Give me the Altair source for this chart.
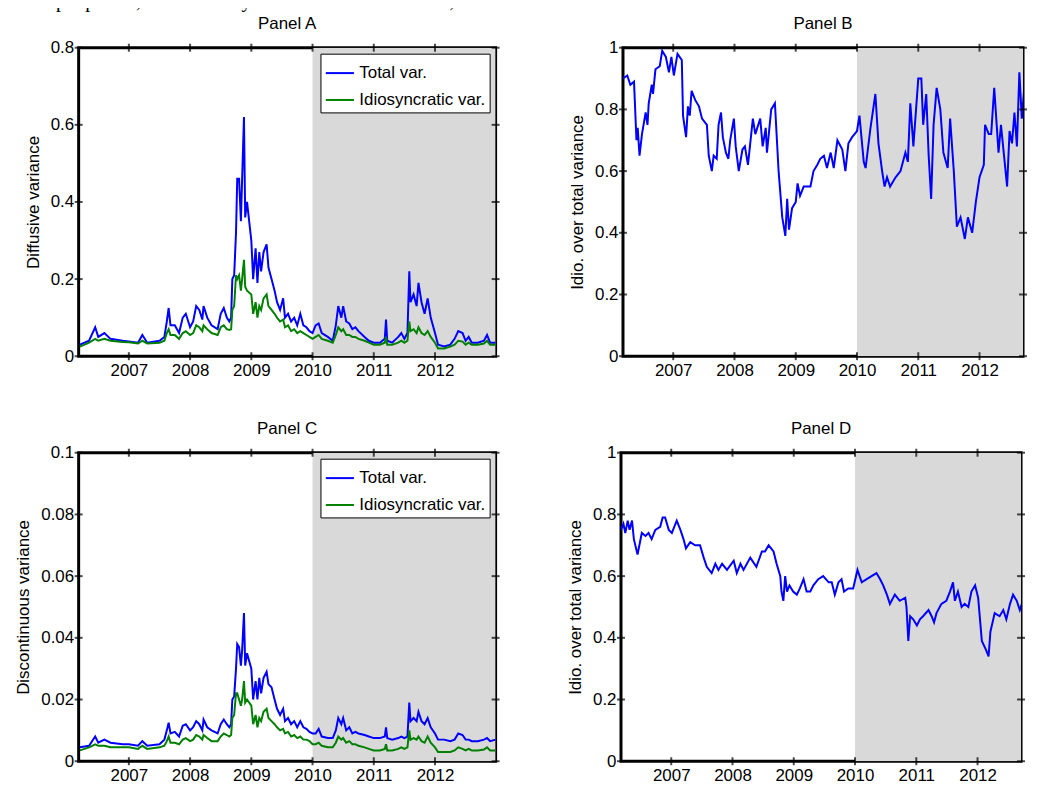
import pandas as pd
import altair as alt

FONT = "Liberation Sans"
W, H = 419, 310
W_RIGHT = 402  # the right-hand panels run off the page edge in the reference
X_MIN, X_MAX = 2006.18, 2012.99
X_MAX_RIGHT = 2012.71
SHADE_START, SHADE_END = 2010.0, 2012.99
YEARS = [2007, 2008, 2009, 2010, 2011, 2012]

# shared time grid (decimal years) for panels A and C
xs = [2006.2, 2006.35, 2006.45, 2006.5, 2006.6, 2006.7, 2006.9, 2007.0, 2007.15, 2007.22,
      2007.3, 2007.5, 2007.58, 2007.62, 2007.65, 2007.68, 2007.75, 2007.82, 2007.88, 2007.93,
      2008.0, 2008.05, 2008.1, 2008.15, 2008.2, 2008.22, 2008.28, 2008.35, 2008.45, 2008.5,
      2008.55, 2008.6, 2008.64, 2008.67, 2008.69, 2008.72, 2008.75, 2008.77, 2008.8, 2008.83,
      2008.85, 2008.88, 2008.9, 2008.93, 2009.0, 2009.03, 2009.07, 2009.1, 2009.13, 2009.16,
      2009.2, 2009.25, 2009.28, 2009.33, 2009.38, 2009.42, 2009.47, 2009.52, 2009.55, 2009.6,
      2009.65, 2009.7, 2009.75, 2009.8, 2009.85, 2009.9, 2009.95, 2010.0, 2010.05, 2010.1,
      2010.15, 2010.25, 2010.33, 2010.38, 2010.42, 2010.47, 2010.5, 2010.55, 2010.6, 2010.65,
      2010.7, 2010.75, 2010.85, 2010.92, 2011.0, 2011.1, 2011.18, 2011.2, 2011.22, 2011.3,
      2011.4, 2011.45, 2011.5, 2011.55, 2011.58, 2011.6, 2011.65, 2011.7, 2011.73, 2011.78,
      2011.83, 2011.88, 2011.93, 2012.0, 2012.05, 2012.15, 2012.25, 2012.32, 2012.38, 2012.45,
      2012.5, 2012.55, 2012.6, 2012.7, 2012.8, 2012.85, 2012.9, 2012.99]

a_total = [.03, .04, .075, .05, .06, .045, .04, .038, .035, .055,
           .035, .04, .05, .09, .125, .08, .08, .06, .1, .11,
           .075, .09, .13, .12, .095, .13, .1, .08, .07, .11,
           .125, .1, .09, .1, .2, .21, .32, .46, .46, .35,
           .46, .62, .36, .4, .3, .2, .28, .19, .27, .22,
           .27, .29, .23, .2, .17, .14, .12, .15, .1, .11,
           .09, .1, .08, .11, .08, .075, .065, .06, .08, .085,
           .06, .05, .04, .08, .13, .1, .13, .09, .085, .07,
           .075, .065, .05, .04, .035, .035, .045, .095, .04, .035,
           .05, .06, .045, .06, .22, .14, .16, .13, .19, .14,
           .11, .15, .1, .06, .03, .025, .03, .045, .065, .06,
           .04, .05, .035, .035, .04, .055, .035, .035]

a_idio = [.025, .035, .045, .04, .045, .04, .037, .036, .033, .04,
          .033, .035, .04, .06, .07, .055, .055, .045, .06, .065,
          .055, .06, .08, .075, .065, .08, .07, .06, .055, .075,
          .08, .07, .068, .07, .12, .13, .21, .2, .21, .17,
          .2, .25, .18, .17, .16, .11, .14, .1, .13, .12,
          .15, .16, .13, .12, .11, .1, .09, .095, .075, .08,
          .065, .07, .06, .065, .06, .055, .05, .045, .05, .055,
          .045, .04, .035, .055, .075, .065, .07, .055, .055, .05,
          .05, .045, .04, .035, .03, .03, .035, .05, .03, .03,
          .035, .04, .035, .04, .09, .065, .07, .06, .075, .06,
          .055, .065, .05, .035, .02, .02, .025, .03, .04, .038,
          .03, .035, .03, .03, .033, .04, .03, .03]

c_total = [.0045, .005, .008, .006, .007, .006, .0055, .0055, .005, .0065,
           .005, .0055, .007, .01, .0125, .009, .0095, .008, .0115, .012,
           .01, .011, .013, .012, .01, .0135, .011, .01, .009, .012,
           .0135, .012, .011, .012, .02, .021, .03, .038, .037, .031,
           .036, .048, .031, .035, .03, .02, .026, .02, .027, .022,
           .027, .029, .025, .024, .02, .017, .015, .017, .013, .014,
           .012, .013, .011, .013, .011, .0105, .0095, .009, .009, .0105,
           .008, .0075, .0075, .01, .014, .012, .014, .01, .011, .009,
           .0095, .009, .0085, .008, .0075, .0075, .008, .011, .0075, .007,
           .0075, .008, .0075, .008, .019, .013, .014, .013, .016, .013,
           .012, .014, .011, .009, .007, .007, .0065, .007, .009, .0085,
           .007, .007, .0065, .0065, .007, .0075, .0065, .007]

c_idio = [.0035, .0045, .0055, .005, .005, .0045, .0045, .0045, .004, .005,
          .004, .0045, .005, .0065, .008, .006, .006, .0055, .007, .0075,
          .0065, .007, .0085, .008, .007, .0085, .0075, .0065, .0065, .008,
          .009, .0085, .008, .0085, .014, .015, .022, .022, .02, .018,
          .02, .026, .019, .02, .018, .012, .015, .011, .014, .013,
          .016, .017, .014, .013, .012, .011, .01, .0105, .009, .0095,
          .008, .0085, .0075, .008, .007, .007, .0065, .0055, .0055, .006,
          .005, .0045, .0045, .006, .008, .007, .0075, .006, .0065, .0055,
          .0055, .005, .0045, .004, .0035, .0035, .004, .0055, .0035, .0035,
          .004, .0045, .004, .0045, .01, .007, .0075, .007, .008, .0065,
          .006, .008, .006, .0045, .003, .003, .003, .0035, .0045, .004,
          .0035, .004, .0035, .0035, .0038, .0045, .0035, .0035]

# Panel B: idiosyncratic over total (diffusive)
b_x = [2006.18, 2006.25, 2006.30, 2006.36, 2006.40, 2006.42, 2006.45, 2006.49, 2006.55, 2006.58,
       2006.60, 2006.65, 2006.67, 2006.71, 2006.78, 2006.82, 2006.88, 2006.93, 2006.97, 2007.01,
       2007.07, 2007.14, 2007.16, 2007.21, 2007.24, 2007.27, 2007.30, 2007.36, 2007.42, 2007.47,
       2007.55, 2007.58, 2007.63, 2007.66, 2007.71, 2007.74, 2007.78, 2007.81, 2007.86, 2007.90,
       2007.93, 2007.99, 2008.02, 2008.07, 2008.13, 2008.17, 2008.22, 2008.30, 2008.34, 2008.42,
       2008.46, 2008.51, 2008.53, 2008.60, 2008.66, 2008.72, 2008.78, 2008.83, 2008.86, 2008.89,
       2008.94, 2009.00, 2009.03, 2009.07, 2009.13, 2009.18, 2009.24, 2009.29, 2009.35, 2009.40,
       2009.46, 2009.51, 2009.57, 2009.62, 2009.68, 2009.76, 2009.81, 2009.86, 2009.92, 2010.00,
       2010.04, 2010.11, 2010.14, 2010.22, 2010.30, 2010.35, 2010.41, 2010.45, 2010.49, 2010.54,
       2010.63, 2010.71, 2010.79, 2010.83, 2010.87, 2010.92, 2011.00, 2011.05, 2011.08, 2011.13,
       2011.17, 2011.21, 2011.25, 2011.30, 2011.36, 2011.41, 2011.48, 2011.52, 2011.58, 2011.63,
       2011.69, 2011.76, 2011.81, 2011.88, 2011.94, 2012.00, 2012.07, 2012.09, 2012.15, 2012.19,
       2012.24, 2012.31, 2012.35, 2012.45, 2012.49, 2012.53, 2012.57, 2012.61, 2012.65, 2012.69,
       2012.75, 2012.77, 2012.83, 2012.86, 2012.92, 2012.99]
b_ratio = [.9, .91, .88, .89, .7, .74, .65, .72, .79, .75,
           .82, .88, .85, .93, .94, .99, .97, .92, .97, .91,
           .98, .96, .78, .71, .81, .78, .86, .83, .81, .77,
           .75, .65, .6, .65, .64, .75, .79, .71, .66, .64,
           .7, .77, .68, .6, .67, .68, .62, .77, .72, .77,
           .68, .74, .66, .8, .82, .6, .45, .39, .51, .41,
           .48, .5, .56, .52, .55, .55, .55, .6, .62, .64,
           .65, .61, .66, .61, .7, .67, .6, .69, .71, .73,
           .78, .63, .61, .74, .85, .69, .6, .55, .58, .55,
           .58, .6, .66, .63, .82, .68, .9, .9, .75, .85,
           .65, .51, .75, .87, .8, .66, .61, .77, .6, .42,
           .45, .38, .45, .4, .5, .58, .62, .75, .72, .72,
           .87, .66, .75, .55, .73, .69, .79, .68, .92, .77,
           .92, .78, .82, .69, .7, .72]

# Panel D: idiosyncratic over total (discontinuous)
d_x = [2006.18, 2006.22, 2006.25, 2006.29, 2006.32, 2006.36, 2006.39, 2006.45, 2006.48, 2006.52,
       2006.58, 2006.63, 2006.68, 2006.74, 2006.82, 2006.86, 2006.90, 2006.96, 2007.01, 2007.09,
       2007.15, 2007.20, 2007.24, 2007.31, 2007.39, 2007.47, 2007.53, 2007.58, 2007.66, 2007.72,
       2007.77, 2007.83, 2007.91, 2008.02, 2008.07, 2008.13, 2008.18, 2008.29, 2008.39, 2008.48,
       2008.53, 2008.59, 2008.67, 2008.72, 2008.78, 2008.80, 2008.83, 2008.86, 2008.89, 2008.93,
       2008.99, 2009.05, 2009.10, 2009.16, 2009.21, 2009.27, 2009.32, 2009.40, 2009.48, 2009.57,
       2009.62, 2009.67, 2009.73, 2009.78, 2009.82, 2009.89, 2009.97, 2010.04, 2010.11, 2010.19,
       2010.27, 2010.35, 2010.41, 2010.46, 2010.52, 2010.57, 2010.65, 2010.73, 2010.82, 2010.84,
       2010.87, 2010.90, 2010.95, 2011.01, 2011.06, 2011.11, 2011.20, 2011.25, 2011.29, 2011.33,
       2011.41, 2011.49, 2011.55, 2011.60, 2011.63, 2011.68, 2011.74, 2011.79, 2011.85, 2011.90,
       2011.96, 2012.01, 2012.07, 2012.14, 2012.18, 2012.21, 2012.28, 2012.36, 2012.42, 2012.47,
       2012.53, 2012.58, 2012.64, 2012.69, 2012.74, 2012.83, 2012.86, 2012.99]
d_ratio = [.75, .77, .74, .78, .75, .78, .72, .67, .7, .74,
           .73, .74, .72, .75, .76, .79, .79, .75, .74, .78,
           .75, .72, .69, .71, .7, .7, .66, .63, .61, .64,
           .62, .64, .62, .65, .61, .64, .62, .66, .63, .68,
           .68, .7, .68, .64, .6, .55, .52, .6, .55, .57,
           .55, .54, .56, .59, .55, .55, .57, .59, .6, .58,
           .58, .54, .58, .59, .55, .56, .56, .62, .58, .59,
           .6, .61, .59, .57, .54, .51, .54, .52, .53, .5,
           .39, .47, .46, .44, .46, .47, .49, .47, .45, .48,
           .51, .52, .55, .58, .52, .55, .5, .51, .5, .55,
           .57, .53, .39, .36, .34, .42, .48, .47, .49, .46,
           .51, .54, .52, .49, .52, .54, .54, .55]

TOTAL_LABEL = "Total var."
IDIO_LABEL = "Idiosyncratic var."
BLUE, GREEN = "#0000ff", "#008000"


def long_df(x, total, idio):
    return pd.concat([
        pd.DataFrame({"x": x, "v": total, "s": TOTAL_LABEL}),
        pd.DataFrame({"x": x, "v": idio, "s": IDIO_LABEL}),
    ])


def panel(title, df, ymax, ytick_vals, ytitle, two_series, width=W, x_max=X_MAX):
    xscale = alt.Scale(domain=[X_MIN, x_max], nice=False, zero=False)
    yscale = alt.Scale(domain=[0, ymax], nice=False)
    x_axis = alt.Axis(values=YEARS, format="d", title=None, grid=False, ticks=False,
                      domain=False, labelPadding=6, labelFontSize=17, labelFont=FONT,
                      labelColor="black")
    y_axis = alt.Axis(values=ytick_vals, format="~g", title=ytitle, grid=False, ticks=False,
                      domain=False, labelPadding=5, titlePadding=8, labelFontSize=17,
                      labelFont=FONT, labelColor="black", titleFont=FONT, titleFontSize=17,
                      titleFontWeight="normal", titleColor="black")

    shade = alt.Chart(pd.DataFrame({"x": [SHADE_START], "x_end": [SHADE_END]})).mark_rect(
        color="#d9d9d9", clip=True
    ).encode(
        x=alt.X("x:Q", scale=xscale, axis=x_axis),
        x2="x_end:Q",
        y=alt.value(0),
        y2=alt.value(H),
    )

    if two_series:
        lines = alt.Chart(df).mark_line(strokeWidth=2, clip=True).encode(
            x=alt.X("x:Q", scale=xscale, axis=x_axis),
            y=alt.Y("v:Q", scale=yscale, axis=y_axis),
            color=alt.Color(
                "s:N",
                scale=alt.Scale(domain=[TOTAL_LABEL, IDIO_LABEL], range=[BLUE, GREEN]),
                legend=alt.Legend(title=None, orient="top-right", offset=6,
                                  strokeColor="black", fillColor="white", padding=4,
                                  symbolType="stroke", symbolStrokeWidth=2, symbolSize=800,
                                  labelFontSize=17, labelFont=FONT, labelColor="black",
                                  rowPadding=3)),
            order=alt.Order("x:Q"),
        )
    else:
        lines = alt.Chart(df).mark_line(strokeWidth=2, color=BLUE, clip=True).encode(
            x=alt.X("x:Q", scale=xscale, axis=x_axis),
            y=alt.Y("v:Q", scale=yscale, axis=y_axis),
            order=alt.Order("x:Q"),
        )

    ydf = pd.DataFrame({"v": ytick_vals})
    xdf = pd.DataFrame({"x": YEARS})
    tick_layers = []
    for yv in (0, H):
        tick_layers.append(alt.Chart(xdf).mark_tick(color="black", size=8, thickness=2).encode(
            x=alt.X("x:Q", scale=xscale, axis=x_axis), y=alt.value(yv)))
    for xv in (0, width):
        tick_layers.append(alt.Chart(ydf).mark_tick(color="black", size=8, thickness=2).encode(
            y=alt.Y("v:Q", scale=yscale, axis=y_axis), x=alt.value(xv)))

    return alt.layer(shade, lines, *tick_layers).properties(
        width=width, height=H,
        view=alt.ViewBackground(stroke="black", strokeWidth=3),
        title=alt.TitleParams(title, fontSize=17, font=FONT, fontWeight="normal", offset=6),
    )


panel_a = panel("Panel A", long_df(xs, a_total, a_idio), 0.8, [0, 0.2, 0.4, 0.6, 0.8],
                "Diffusive variance", True)
panel_b = panel("Panel B", pd.DataFrame({"x": b_x, "v": b_ratio}), 1, [0, 0.2, 0.4, 0.6, 0.8, 1],
                "Idio. over total variance", False, W_RIGHT, X_MAX_RIGHT)
panel_c = panel("Panel C", long_df(xs, c_total, c_idio), 0.1, [0, 0.02, 0.04, 0.06, 0.08, 0.1],
                "Discontinuous variance", True)
panel_d = panel("Panel D", pd.DataFrame({"x": d_x, "v": d_ratio}), 1, [0, 0.2, 0.4, 0.6, 0.8, 1],
                "Idio. over total variance", False, W_RIGHT, X_MAX_RIGHT)

independent = dict(color="independent", x="independent", y="independent")
chart = alt.vconcat(
    alt.hconcat(panel_a, panel_b, spacing=65).resolve_scale(**independent),
    alt.hconcat(panel_c, panel_d, spacing=63).resolve_scale(**independent),
    spacing=38,
).resolve_scale(
    **independent
).resolve_legend(
    color="independent"
).properties(
    padding={"left": 5, "top": -19, "right": 0, "bottom": 0},
    title=alt.TitleParams("l sample period, from January 2010 until December 28, 2012.",
                          font="Liberation Serif", fontSize=20, fontWeight="normal",
                          anchor="start", offset=2),
)

chart.save("out.html", embed_options={"renderer": "svg", "actions": False})
